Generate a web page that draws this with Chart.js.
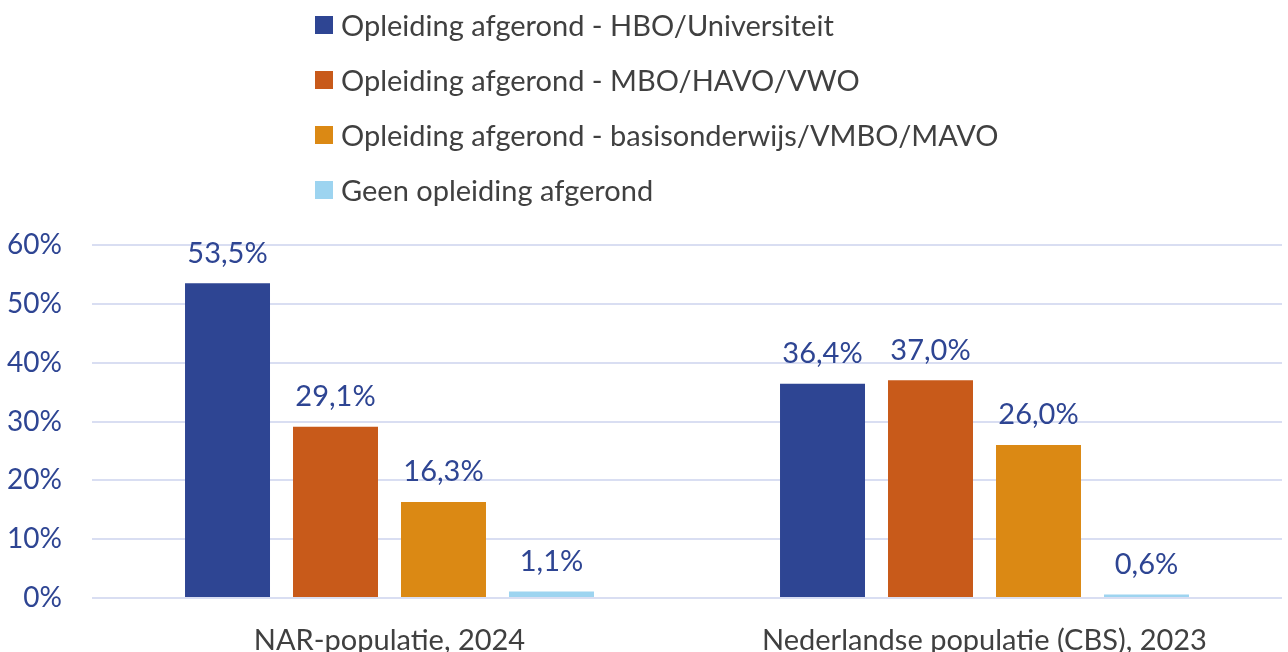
<!DOCTYPE html>
<html>
<head>
<meta charset="utf-8">
<script src="https://cdn.jsdelivr.net/npm/chart.js@4/dist/chart.umd.min.js"></script>
<style>
  html, body { margin:0; padding:0; background:#fff; }
  #wrap { position:relative; width:1288px; height:652px; overflow:hidden; }
  #legend { position:absolute; left:315px; top:0; font-family:Lato, sans-serif; font-size:29px; color:#404040; }
  #legend .item { position:absolute; left:0; white-space:nowrap; height:30px; line-height:30px; }
  #legend .box { position:absolute; left:0; top:6px; width:18px; height:18px; }
  #legend .txt { position:absolute; left:26px; top:0; }
</style>
</head>
<body>
<div id="wrap">
  <canvas id="eduChart" width="1288" height="652"></canvas>
  <div id="legend"></div>
</div>
<script>
// categories, series and ticks
const categories = ['NAR-populatie, 2024', 'Nederlandse populatie (CBS), 2023'];
const seriesNames = [
  'Opleiding afgerond - HBO/Universiteit',
  'Opleiding afgerond - MBO/HAVO/VWO',
  'Opleiding afgerond - basisonderwijs/VMBO/MAVO',
  'Geen opleiding afgerond'
];
const hboUni = [53.5, 36.4];
const mboHavoVwo = [29.1, 37.0];
const basisVmboMavo = [16.3, 26.0];
const geenOpleiding = [1.1, 0.6];
const seriesColors = ['#2E4593', '#C85A1A', '#DB8914', '#9DD4F0'];
const yTicks = [0, 10, 20, 30, 40, 50, 60];

const fontFam = 'Lato, sans-serif';
const seriesValues = [hboUni, mboHavoVwo, basisVmboMavo, geenOpleiding];

// html legend, one row per series
const legendEl = document.getElementById('legend');
seriesNames.forEach((name, i) => {
  const row = document.createElement('div');
  row.className = 'item';
  row.style.top = (10 + i * 55) + 'px';
  row.innerHTML = '<span class="box" style="background:' + seriesColors[i] + '"></span><span class="txt">' + name + '</span>';
  legendEl.appendChild(row);
});

const fmt = v => v.toFixed(1).replace('.', ',') + '%';

const valueLabels = {
  id: 'valueLabels',
  afterDatasetsDraw(chart) {
    const ctx = chart.ctx;
    ctx.save();
    ctx.font = '29px ' + fontFam;
    ctx.fillStyle = '#2E4593';
    ctx.textAlign = 'center';
    ctx.textBaseline = 'middle';
    chart.data.datasets.forEach((ds, i) => {
      chart.getDatasetMeta(i).data.forEach((bar, j) => {
        ctx.fillText(fmt(ds.data[j]), bar.x, bar.y - 30);
      });
    });
    ctx.restore();
  }
};

new Chart(document.getElementById('eduChart').getContext('2d'), {
  type: 'bar',
  data: {
    labels: categories,
    datasets: seriesNames.map((name, i) => ({
      label: name,
      data: seriesValues[i],
      backgroundColor: seriesColors[i],
      categoryPercentage: 0.726,
      barPercentage: 0.787
    }))
  },
  options: {
    responsive: false,
    animation: false,
    layout: { padding: { top: 245, right: 6, left: 0, bottom: 0 } },
    plugins: { legend: { display: false }, tooltip: { enabled: false } },
    scales: {
      x: {
        grid: { display: false },
        border: { display: false },
        ticks: { color: '#404040', font: { family: fontFam, size: 29 }, padding: 17 },
        afterFit: s => { s.height = 54; }
      },
      y: {
        min: 0, max: 60,
        afterBuildTicks: s => { s.ticks = yTicks.map(v => ({ value: v })); },
        grid: { color: '#D9DEF2', lineWidth: 2, drawTicks: false },
        border: { display: false },
        ticks: { color: '#2E4593', font: { family: fontFam, size: 28 }, padding: 30, callback: v => v + '%' },
        afterFit: s => { s.width = 92; }
      }
    }
  },
  plugins: [valueLabels]
});
</script>
</body>
</html>
